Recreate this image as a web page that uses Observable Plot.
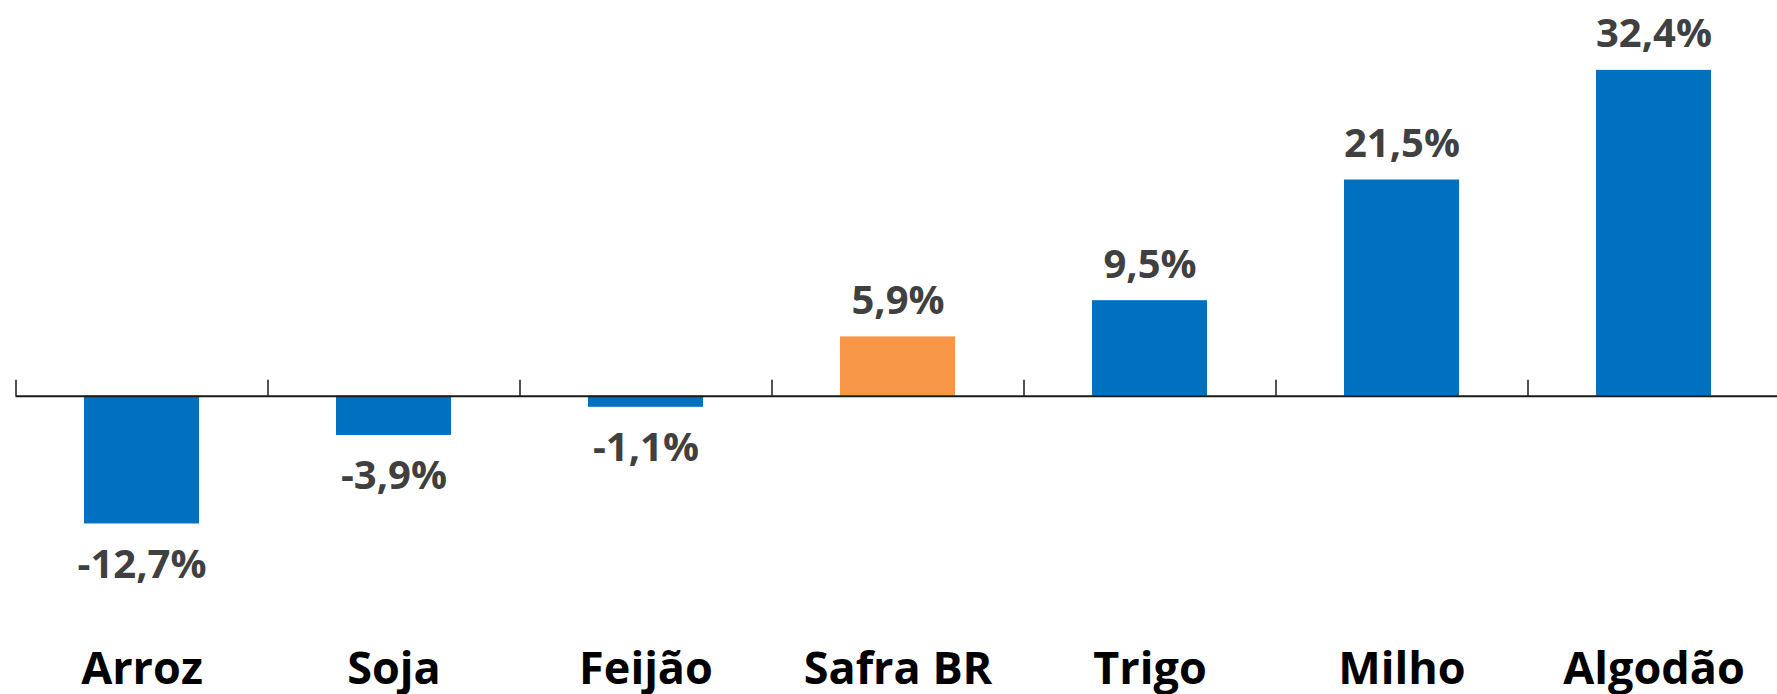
<!DOCTYPE html>
<html>
<head>
<meta charset="utf-8">
<script src="https://cdn.jsdelivr.net/npm/d3@7"></script>
<script src="https://cdn.jsdelivr.net/npm/@observablehq/plot@0.6"></script>
<style>
  html, body { margin: 0; padding: 0; background: #fff; }
</style>
</head>
<body>
<div id="chart"></div>
<script>
const categories = ["Arroz", "Soja", "Feijão", "Safra BR", "Trigo", "Milho", "Algodão"];
const values = [-12.7, -3.9, -1.1, 5.9, 9.5, 21.5, 32.4];
const highlight = "Safra BR";

const data = categories.map((c, i) => ({ cat: c, v: values[i] }));
const fmt = v => v.toFixed(1).replace(".", ",") + "%";

const W = 1777, H = 694, mL = 15.5, mR = -2.5, mB = 74;
const step = (W - mL - mR) / categories.length;
const blue = "#0070C0", orange = "#F79646";

const chart = Plot.plot({
  width: W,
  height: H,
  marginLeft: mL,
  marginRight: mR,
  marginTop: 0,
  marginBottom: mB,
  x: { domain: categories, paddingInner: 0.544, paddingOuter: 0.272, axis: null },
  y: { domain: [-22.3, 39.35], axis: null },
  style: { background: "#fff", overflow: "visible" },
  marks: [
    Plot.barY(data, {
      x: "cat",
      y: "v",
      fill: d => d.cat === highlight ? orange : blue
    }),
    Plot.ruleY([0], { stroke: "#1a1a1a", strokeWidth: 2 }),
    Plot.ruleX(categories, {
      x: d => d,
      y1: 0,
      y2: 1.6,
      dx: -step / 2,
      stroke: "#1a1a1a",
      strokeWidth: 1.5
    }),
    Plot.text(data.filter(d => d.v >= 0), {
      x: "cat",
      y: "v",
      text: d => fmt(d.v),
      lineAnchor: "bottom",
      dy: -23,
      fontFamily: "Open Sans",
      fontWeight: 700,
      fontSize: 40,
      fill: "#404040"
    }),
    Plot.text(data.filter(d => d.v < 0), {
      x: "cat",
      y: "v",
      text: d => fmt(d.v),
      lineAnchor: "bottom",
      dy: 54,
      fontFamily: "Open Sans",
      fontWeight: 700,
      fontSize: 40,
      fill: "#404040"
    }),
    Plot.text(categories, {
      x: d => d,
      text: d => d,
      frameAnchor: "bottom",
      lineAnchor: "bottom",
      dy: 63,
      fontFamily: "Open Sans",
      fontWeight: 700,
      fontSize: 45,
      fill: "#000"
    })
  ]
});

document.getElementById("chart").appendChild(chart);
</script>
</body>
</html>
